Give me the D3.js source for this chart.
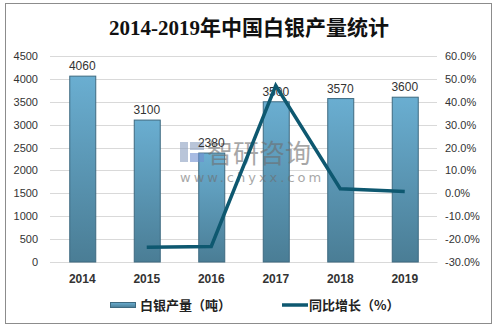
<!DOCTYPE html>
<html><head><meta charset="utf-8">
<script src="https://cdn.jsdelivr.net/npm/d3@7"></script>
<style>body{margin:0;background:#fff}svg{display:block}</style>
</head><body>
<script>
const years = ["2014","2015","2016","2017","2018","2019"];
const output = [4060, 3100, 2380, 3500, 3570, 3600];
const growth = [null, -23.6, -23.2, 47.1, 2.0, 0.84];
const leftTicks = [0,500,1000,1500,2000,2500,3000,3500,4000,4500];
const rightTicks = [-30,-20,-10,0,10,20,30,40,50,60];

const W = 497, H = 328;
const svg = d3.select("body").append("svg").attr("width", W).attr("height", H);
const defs = svg.append("defs");
const g = defs.append("linearGradient").attr("id","bg").attr("x1",0).attr("y1",0).attr("x2",0).attr("y2",1);
g.append("stop").attr("offset","0%").attr("stop-color","#6aaed1");
g.append("stop").attr("offset","100%").attr("stop-color","#4a7d95");

svg.append("rect").attr("x",5.5).attr("y",3.5).attr("width",486).attr("height",320)
  .attr("fill","#fff").attr("stroke","#8c8c8c").attr("stroke-width",1);

svg.append("text").attr("x",249).attr("y",35).attr("text-anchor","middle")
  .attr("font-family","'Liberation Serif','Noto Sans CJK SC',serif").attr("font-weight","bold")
  .attr("font-size",21).attr("fill","#111").text("2014-2019年中国白银产量统计");

const x0 = 50, x1 = 437, yTop = 56, yBot = 262;
const x = d3.scaleBand().domain(years).range([x0, x1]);
const yL = d3.scaleLinear().domain([0,4500]).range([yBot, yTop]);
const yR = d3.scaleLinear().domain([-30,60]).range([yBot, yTop]);

// gridlines
svg.append("g").selectAll("line").data(leftTicks).join("line")
  .attr("x1",x0).attr("x2",x1).attr("y1",d=>Math.round(yL(d))+0.5).attr("y2",d=>Math.round(yL(d))+0.5)
  .attr("stroke","#d9d9d9").attr("stroke-width",1);

const tickFont = "'Liberation Sans','DejaVu Sans',sans-serif";
// left axis
const la = svg.append("g").attr("transform",`translate(${x0},0)`)
  .call(d3.axisLeft(yL).tickValues(leftTicks).tickSize(0).tickPadding(12).tickFormat(d3.format("d")));
la.select(".domain").remove();
la.selectAll("text").attr("font-family",tickFont).attr("font-size",11).attr("fill","#333");
// right axis
const ra = svg.append("g").attr("transform",`translate(${x1},0)`)
  .call(d3.axisRight(yR).tickValues(rightTicks).tickSize(0).tickPadding(8).tickFormat(d=>d.toFixed(1)+"%"));
ra.select(".domain").remove();
ra.selectAll("text").attr("font-family",tickFont).attr("font-size",11).attr("fill","#333");
// bottom axis
const ba = svg.append("g").attr("transform",`translate(0,${yBot})`)
  .call(d3.axisBottom(x).tickSize(0).tickPadding(12));
ba.select(".domain").attr("stroke","#d9d9d9");
ba.selectAll("text").attr("font-family",tickFont).attr("font-size",12).attr("font-weight","bold").attr("fill","#333");

// bars
const bw = 26;
svg.append("g").selectAll("rect").data(years).join("rect")
  .attr("x",(d)=>x(d)+x.bandwidth()/2-bw/2+0.5).attr("width",bw)
  .attr("y",(d,i)=>yL(output[i])).attr("height",(d,i)=>yBot-yL(output[i]))
  .attr("fill","url(#bg)").attr("stroke","#3e6a80").attr("stroke-width",1);

// watermark
const wm = svg.append("g").attr("opacity",0.6);
wm.append("rect").attr("x",180).attr("y",142).attr("width",8).attr("height",20).attr("fill","#8c9fc0");
wm.append("rect").attr("x",190).attr("y",142).attr("width",14).attr("height",8).attr("fill","#8c9fc0");
wm.append("rect").attr("x",190).attr("y",153).attr("width",14).attr("height",9).attr("fill","#6f8fcf");
wm.append("text").attr("x",207).attr("y",163).attr("font-family","'Noto Sans CJK SC',sans-serif")
  .attr("font-size",26).attr("fill","#6e6e6e").text("智研咨询");
wm.append("text").attr("x",180).attr("y",182).attr("font-family","'DejaVu Sans',sans-serif")
  .attr("font-size",13).attr("letter-spacing",3).attr("fill","#6e6e6e").text("www.chyxx.com");

// bar labels
svg.append("g").selectAll("text").data(years).join("text")
  .attr("x",d=>x(d)+x.bandwidth()/2).attr("y",(d,i)=>yL(output[i])-6)
  .attr("text-anchor","middle").attr("font-family",tickFont).attr("font-size",12).attr("fill","#333")
  .text((d,i)=>output[i]);

// line
const pts = years.map((d,i)=>({d, v:growth[i]})).filter(p=>p.v!==null);
svg.append("path").datum(pts)
  .attr("d", d3.line().x(p=>x(p.d)+x.bandwidth()/2).y(p=>yR(p.v)))
  .attr("fill","none").attr("stroke","#0e5870").attr("stroke-width",3.5).attr("stroke-linejoin","miter");

// legend
const lg = svg.append("g");
lg.append("rect").attr("x",110.5).attr("y",302.5).attr("width",25).attr("height",5)
  .attr("fill","url(#bg)").attr("stroke","#3e6a80");
lg.append("text").attr("x",140).attr("y",310).attr("font-family","'Noto Sans CJK SC',sans-serif")
  .attr("font-size",13).attr("font-weight","bold").attr("fill","#222").text("白银产量（吨）");
lg.append("line").attr("x1",282).attr("x2",308).attr("y1",305).attr("y2",305)
  .attr("stroke","#0e5870").attr("stroke-width",3.5);
lg.append("text").attr("x",309).attr("y",310).attr("font-family","'Noto Sans CJK SC',sans-serif")
  .attr("font-size",13).attr("font-weight","bold").attr("fill","#222").text("同比增长（%）");
</script>
</body></html>
